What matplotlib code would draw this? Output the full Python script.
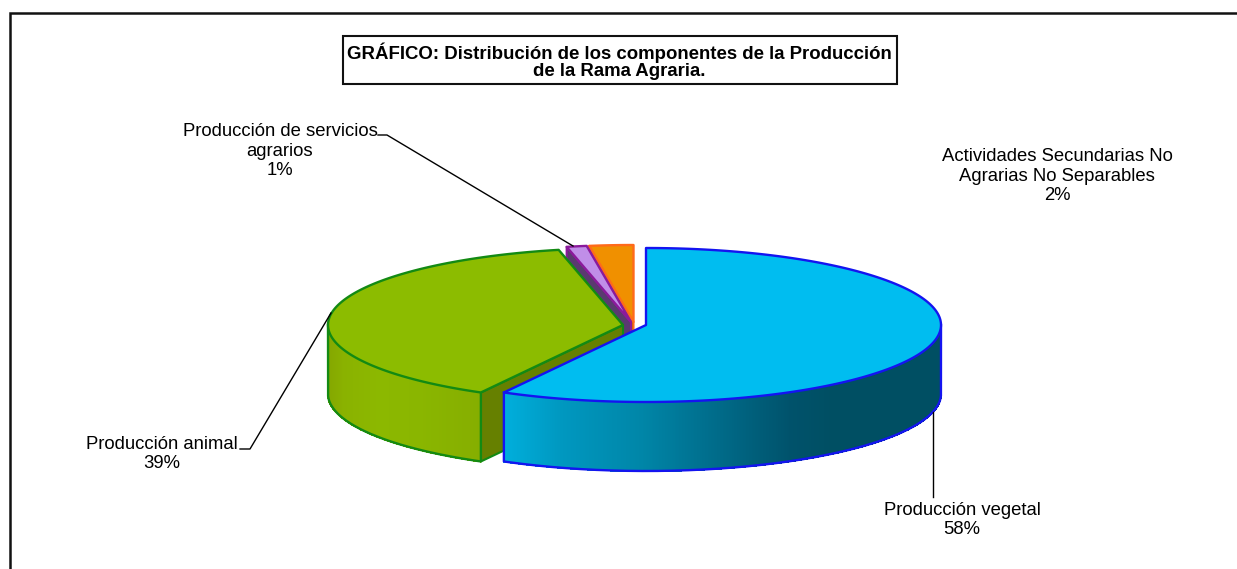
import numpy as np
import matplotlib
matplotlib.use("Agg")
import matplotlib.pyplot as plt
from matplotlib.patches import Polygon, Rectangle
from matplotlib.collections import PolyCollection
from matplotlib.colors import to_rgb

# ---- data ----
categories = ["Producción vegetal", "Producción animal",
              "Producción de servicios agrarios",
              "Actividades Secundarias No Agrarias No Separables"]
values = [58.0, 38.5, 1.1, 2.4]
label_texts = ["Producción vegetal\n58%", "Producción animal\n39%",
               "Producción de servicios\nagrarios\n1%",
               "Actividades Secundarias No\nAgrarias No Separables\n2%"]
title_text = "GRÁFICO: Distribución de los componentes de la Producción\nde la Rama Agraria."

# ---- style / layout (pixel space) ----
W, H = 1237, 569
RX, RY, DEPTH = 295, 77, 69
centers = [(646, 325), (623, 325), (631, 322), (633.5, 322)]
top_colors = ["#00BDF0", "#8CBC00", "#C08EE8", "#F09000"]
edge_colors = ["#1414F0", "#138A13", "#8B1A9B", "#FF6A1A"]
wall_colors = ["#004F66", "#668000", "#5A3A70", "#A06000"]
label_pos = [(962, 520), (162, 454), (280, 151), (1057, 176)]
leaders = [[(933, 412), (933, 497)],
           [(331, 313), (250, 449), (240, 449)],
           [(573, 246), (387, 135), (378, 135)]]
FONT = "Liberation Sans"

fig = plt.figure(figsize=(W / 100, H / 100), dpi=100)
ax = fig.add_axes([0, 0, 1, 1])
ax.set_xlim(0, W)
ax.set_ylim(H, 0)
ax.axis("off")

# outer frame: only left and top sides are visible
ax.plot([9.5, 9.5, W + 2], [H + 2, 12.5, 12.5], color="#111111", lw=1.8,
        solid_joinstyle="miter", zorder=1)


def pt(c, a, r=1.0, dz=0.0):
    """a: clockwise degrees from north, projected on the tilted ellipse."""
    t = np.radians(a)
    return (c[0] + RX * r * np.sin(t), c[1] - RY * r * np.cos(t) + dz)


def arc(c, a0, a1, dz=0.0, n=200):
    return [pt(c, a, 1.0, dz) for a in np.linspace(a0, a1, n)]


def blue_shade(x):
    xs = [505, 560, 640, 720, 790, 830, 945]
    cs = ["#00AEDB", "#0098C0", "#0086A8", "#006A88", "#00526B", "#004F63", "#004F63"]
    arr = np.array([to_rgb(k) for k in cs])
    return tuple(np.interp(x, xs, arr[:, i]) for i in range(3))


def green_shade(x):
    xs = [328, 345, 380, 420, 482]
    cs = ["#84A600", "#8AB200", "#8CB800", "#8AB600", "#86AE00"]
    arr = np.array([to_rgb(k) for k in cs])
    return tuple(np.interp(x, xs, arr[:, i]) for i in range(3))


def outer_wall(c, a0, a1, shade, edge, z):
    n = 400
    ang = np.linspace(a0, a1, n + 1)
    quads, cols = [], []
    for i in range(n):
        p0, p1 = pt(c, ang[i]), pt(c, ang[i + 1])
        quads.append([p0, p1, (p1[0], p1[1] + DEPTH), (p0[0], p0[1] + DEPTH)])
        cols.append(shade((p0[0] + p1[0]) / 2))
    ax.add_collection(PolyCollection(quads, facecolors=cols, edgecolors=cols, lw=0.8,
                                     antialiased=False, zorder=z))
    outline = ([pt(c, a0)] + [(pt(c, a0)[0], pt(c, a0)[1] + DEPTH)] +
               arc(c, a0, a1, DEPTH) + [pt(c, a1)])
    ax.plot(*zip(*outline), color=edge, lw=1.7, zorder=z + 0.2)


shares = np.array(values) / sum(values) * 360.0
ends = np.cumsum(shares)
starts = ends - shares
wedges = list(zip(starts, ends))

# draw back to front: orange, purple, green, blue
for idx, z in [(3, 3), (2, 4), (1, 5), (0, 6)]:
    a0, a1 = wedges[idx]
    c = centers[idx]
    # visible radial wall on the start side of the back wedges
    if idx in (1, 2, 3):
        p = pt(c, a0)
        wall = [c, p, (p[0], p[1] + DEPTH), (c[0], c[1] + DEPTH)]
        ax.add_patch(Polygon(wall, closed=True, fc=wall_colors[idx], ec=edge_colors[idx],
                             lw=1.5, zorder=z, joinstyle="round"))
    if idx == 0:
        outer_wall(c, 90, a1, blue_shade, edge_colors[0], z)
    if idx == 1:
        outer_wall(c, 270, a0, green_shade, edge_colors[1], z)
    top = [c] + arc(c, a0, a1)
    ax.add_patch(Polygon(top, closed=True, fc=top_colors[idx], ec=edge_colors[idx],
                         lw=1.7, zorder=z + 0.5, joinstyle="round"))

# leader lines
for seg in leaders:
    ax.plot(*zip(*seg), color="black", lw=1.0, zorder=8)

# data labels
for txt, (x, y) in zip(label_texts, label_pos):
    ax.text(x, y, txt, ha="center", va="center", family=FONT, fontsize=13.3,
            color="black", linespacing=1.22, zorder=9)

# title box
ax.add_patch(Rectangle((342.5, 35.5), 554, 48, fc="white", ec="#111111", lw=1.5, zorder=9))
ax.text(619, 61, title_text, ha="center", va="center", family=FONT, fontsize=13.4,
        fontweight="bold", color="black", linespacing=1.02, zorder=10)

fig.savefig("out.png", dpi=100, facecolor="white")
